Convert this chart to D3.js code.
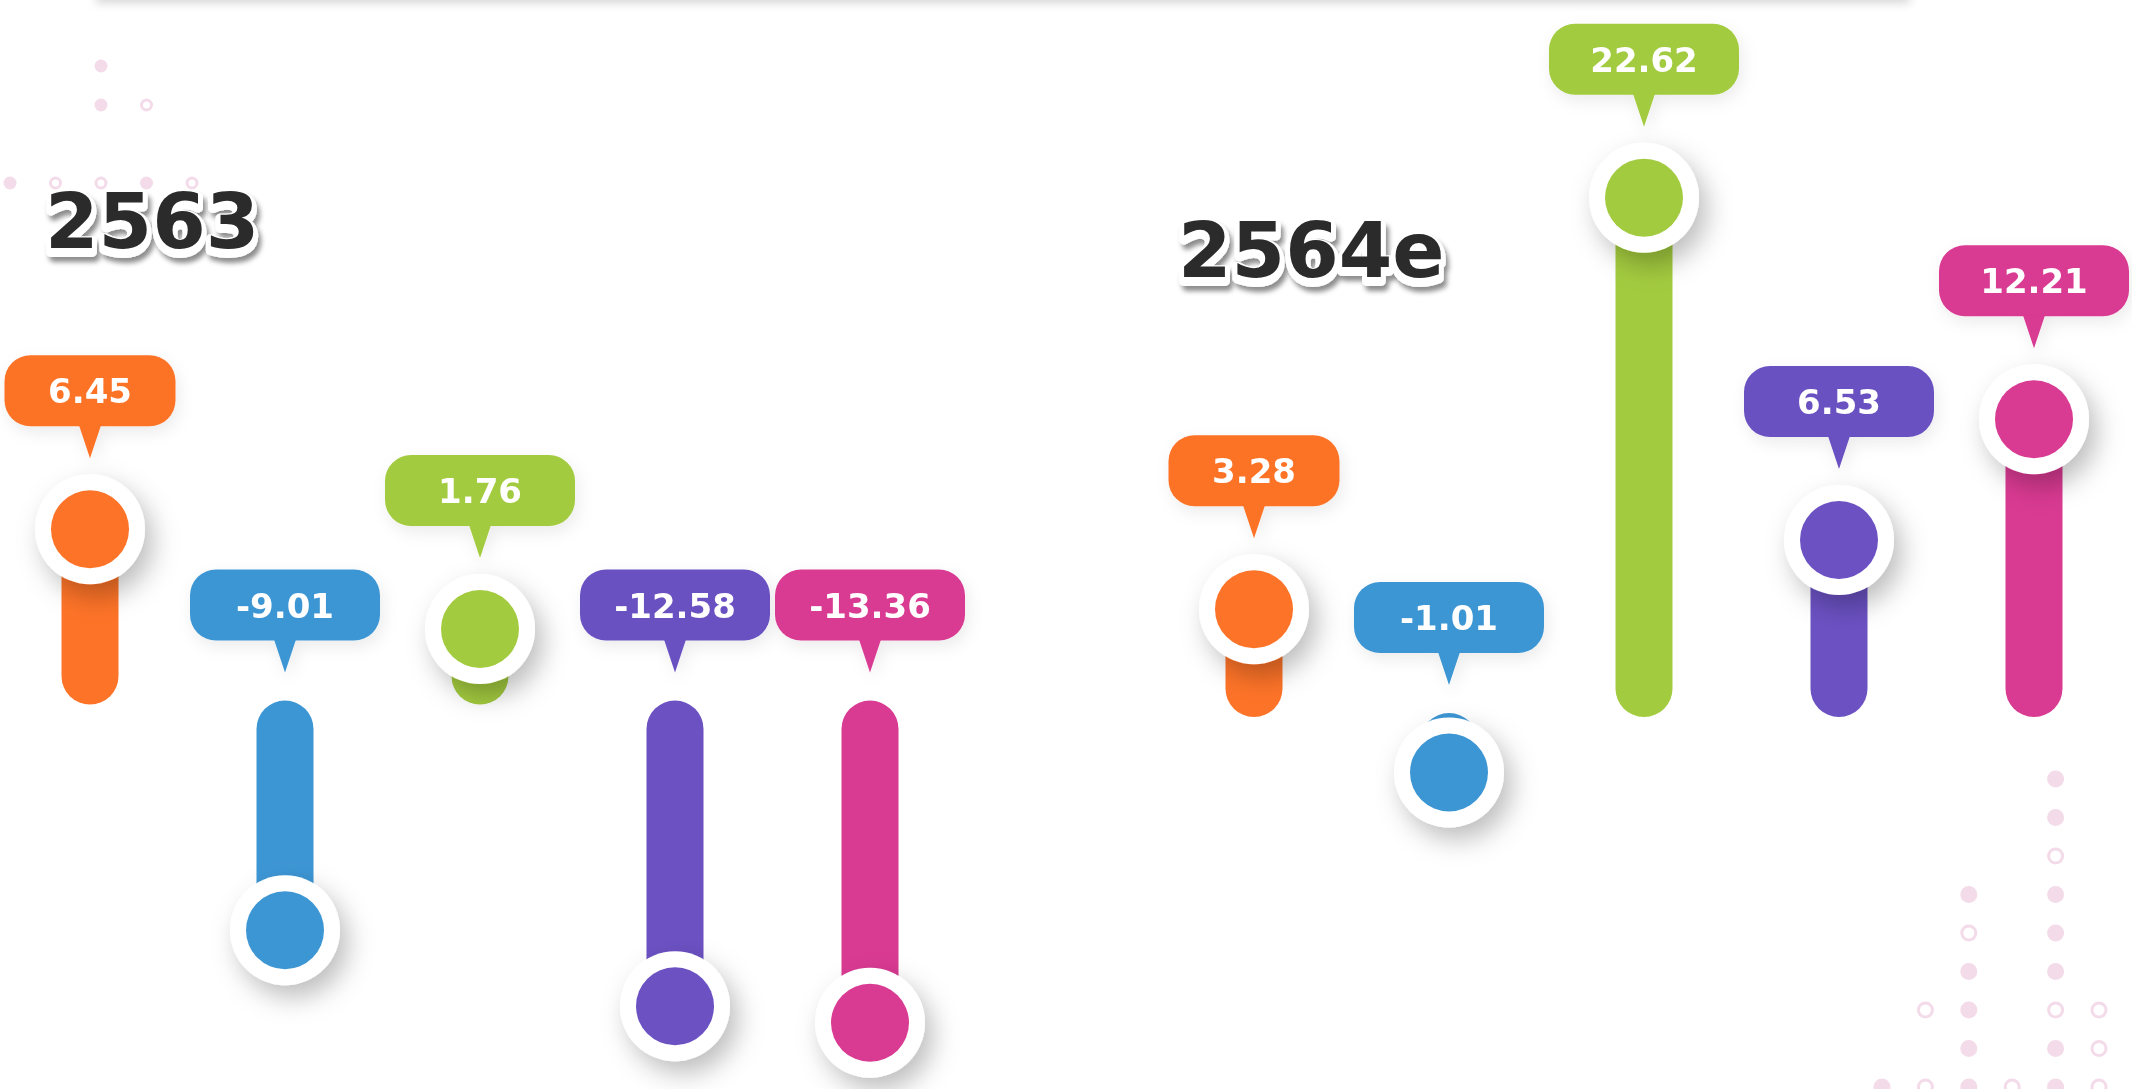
<!DOCTYPE html>
<html>
<head>
<meta charset="utf-8">
<script src="https://cdn.jsdelivr.net/npm/d3@7"></script>
<style>
    html, body { margin: 0; padding: 0; background: #fff; overflow: hidden; }
    svg { display: block; }
</style>
</head>
<body>
<div id="chart"></div>
<script>
// five unnamed series, same order in both years
var categories = ['s1', 's2', 's3', 's4', 's5'];
var colors = ['#fd7328', '#3d96d4', '#a3cb3f', '#6b51c2', '#d93a92'];
var years = ['2563', '2564e'];
var values2563 = [6.45, -9.01, 1.76, -12.58, -13.36];
var values2564e = [3.28, -1.01, 22.62, 6.53, 12.21];

// decorative dot patterns (f = filled, o = ring)
var dotsTopLeft = ['..f..', '..fo.', '.....', 'foofo'];
var dotsBottomRight = ['....f.', '....f.', '....o.', '..f.f.', '..o.f.', '..f.f.', '.of.oo', '..f.fo', 'fofofo'];

var W = 2132, H = 1089;
var font = "'DejaVu Sans', Verdana, sans-serif";
var fmt = d3.formatLocale({ decimal: '.', thousands: ',', grouping: [3], currency: ['', ''], minus: '-' }).format('.2f');

var svg = d3.select('#chart').append('svg')
    .attr('width', W)
    .attr('height', H);

var defs = svg.append('defs');

function shadow(id, dx, dy, sd, op) {
    defs.append('filter')
        .attr('id', id)
        .attr('x', '-60%').attr('y', '-60%')
        .attr('width', '220%').attr('height', '220%')
        .append('feDropShadow')
        .attr('dx', dx).attr('dy', dy)
        .attr('stdDeviation', sd)
        .attr('flood-color', '#000')
        .attr('flood-opacity', op);
}
shadow('circleShadow', 8, 12, 13, 0.26);
shadow('bubbleShadow', 3, 6, 8, 0.08);
shadow('axisShadow', 0, 6, 6, 0.10);
shadow('titleShadow', 3, 5, 2.5, 0.45);
shadow('topShadow', 0, 3, 5, 0.16);

// faint card edge at the very top
svg.append('rect')
    .attr('x', 96).attr('y', -40)
    .attr('width', 1814).attr('height', 40)
    .attr('fill', '#fff')
    .attr('filter', 'url(#topShadow)');

function drawDots(rows, x0, y0, dx, dy, r) {
    var g = svg.append('g').attr('class', 'dots');
    rows.forEach(function(row, i) {
        row.split('').forEach(function(c, j) {
            if (c === '.') return;
            g.append('circle')
                .attr('cx', x0 + j * dx)
                .attr('cy', y0 + i * dy)
                .attr('r', c === 'f' ? r : r - 1.5)
                .attr('fill', c === 'f' ? '#f3dbe9' : 'none')
                .attr('stroke', c === 'o' ? '#f3dbe9' : 'none')
                .attr('stroke-width', 3);
        });
    });
}
drawDots(dotsTopLeft, 10, 66, 45.5, 39, 6.5);
drawDots(dotsBottomRight, 1882, 779, 43.4, 38.5, 8.5);

// distance of the marker from the baseline
var mag = d3.scaleLinear()
    .domain([0, 25])
    .range([36, 568]);

var panels = [
    { title: years[0], values: values2563, x0: 21, x1: 985, axisY: 702.5, tx: 45, ty: 248 },
    { title: years[1], values: values2564e, x0: 1185, x1: 2140, axisY: 715, tx: 1178, ty: 277 }
];

var barW = 57, outerR = 55, innerR = 39;
var bubH = 71, bubR = 26, tipH = 32, tipW = 22;

function drawPanel(p) {
    var g = svg.append('g').attr('class', 'panel');

    var x = d3.scalePoint()
        .domain(categories)
        .range([p.x0 + 69, p.x0 + 849]);

    var data = categories.map(function(c, i) {
        return { key: c, value: p.values[i], color: colors[i], i: i };
    });

    function cy(d) {
        return d.value >= 0 ? p.axisY - mag(d.value) : p.axisY + mag(-d.value);
    }

    // title with white raised halo
    var t = g.append('g').attr('class', 'title');
    t.append('text')
        .attr('x', p.tx).attr('y', p.ty + 4)
        .attr('font-family', font).attr('font-weight', 'bold').attr('font-size', 77)
        .attr('fill', '#fff').attr('stroke', '#fff').attr('stroke-width', 10)
        .attr('stroke-linejoin', 'round')
        .attr('filter', 'url(#titleShadow)')
        .text(p.title);
    t.append('text')
        .attr('x', p.tx).attr('y', p.ty)
        .attr('font-family', font).attr('font-weight', 'bold').attr('font-size', 77)
        .attr('fill', '#2b2b2b')
        .text(p.title);

    // baseline
    g.append('line')
        .attr('x1', p.x0).attr('x2', p.x1)
        .attr('y1', p.axisY).attr('y2', p.axisY)
        .attr('stroke', '#a0a0a0')
        .attr('stroke-width', 11)
        .attr('filter', 'url(#axisShadow)');

    // stems
    g.selectAll('rect.bar').data(data).enter().append('rect')
        .attr('class', 'bar')
        .attr('x', function(d) { return x(d.key) - barW / 2; })
        .attr('y', function(d) { return d.value >= 0 ? cy(d) : p.axisY - 2; })
        .attr('width', barW)
        .attr('height', function(d) { return Math.abs(cy(d) - p.axisY) + 2; })
        .attr('rx', barW / 2)
        .attr('fill', function(d) { return d.color; });

    // markers
    var m = g.selectAll('g.marker').data(data).enter().append('g')
        .attr('class', 'marker')
        .attr('transform', function(d) { return 'translate(' + x(d.key) + ',' + cy(d) + ')'; });
    m.append('circle')
        .attr('r', outerR)
        .attr('fill', '#fff')
        .attr('filter', 'url(#circleShadow)');
    m.append('circle')
        .attr('r', innerR)
        .attr('fill', function(d) { return d.color; });

    // value callouts
    var b = g.selectAll('g.bubble').data(data).enter().append('g')
        .attr('class', 'bubble')
        .attr('transform', function(d) {
            var tip = d.value >= 0 ? cy(d) - outerR - 16 : p.axisY - 30;
            return 'translate(' + x(d.key) + ',' + tip + ')';
        })
        .attr('filter', 'url(#bubbleShadow)');
    b.append('rect')
        .attr('x', function(d) { return -(d.i === 0 ? 171 : 190) / 2; })
        .attr('y', -tipH - bubH)
        .attr('width', function(d) { return d.i === 0 ? 171 : 190; })
        .attr('height', bubH)
        .attr('rx', bubR)
        .attr('fill', function(d) { return d.color; });
    b.append('path')
        .attr('d', 'M' + (-tipW / 2) + ',' + (-tipH - 1) + 'L' + (tipW / 2) + ',' + (-tipH - 1) + 'L0,0Z')
        .attr('fill', function(d) { return d.color; });
    b.append('text')
        .attr('x', 0)
        .attr('y', -tipH - bubH / 2 + 12.5)
        .attr('text-anchor', 'middle')
        .attr('font-family', font).attr('font-weight', 'bold').attr('font-size', 34)
        .attr('fill', '#fff')
        .text(function(d) { return fmt(d.value); });
}

panels.forEach(drawPanel);
</script>
</body>
</html>
